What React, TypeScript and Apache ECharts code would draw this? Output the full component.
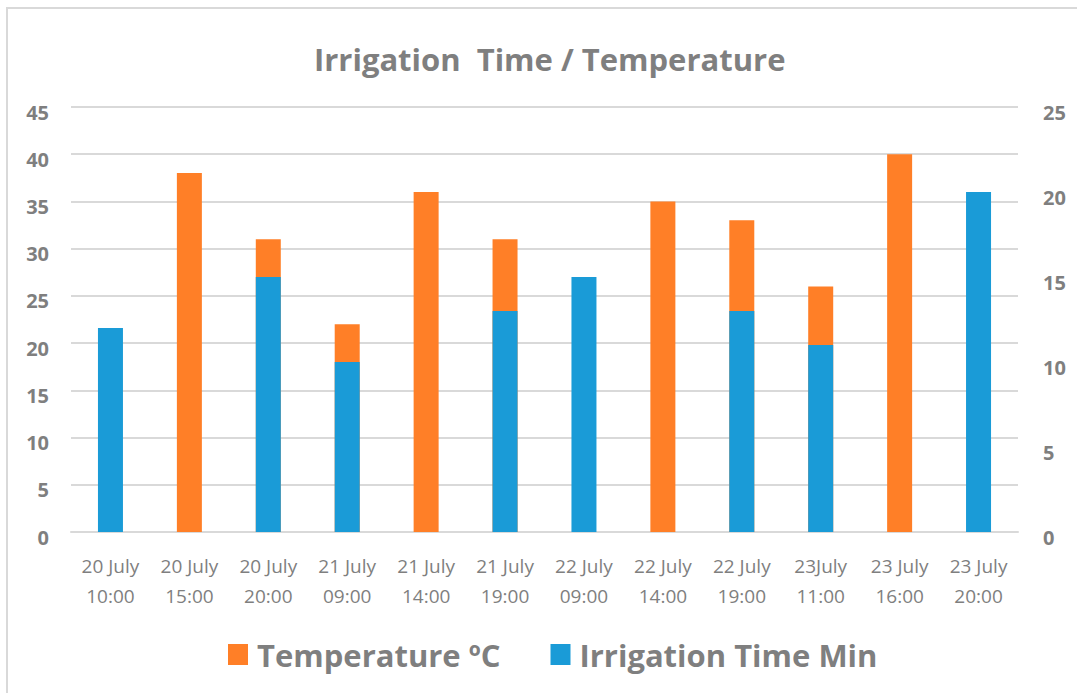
import React, { useEffect, useRef } from "react";
import * as echarts from "echarts";

const categories = [
  "20 July\n10:00", "20 July\n15:00", "20 July\n20:00", "21 July\n09:00",
  "21 July\n14:00", "21 July\n19:00", "22 July\n09:00", "22 July\n14:00",
  "22 July\n19:00", "23July\n11:00", "23 July\n16:00", "23 July\n20:00",
];
const temperature = [null, 38, 31, 22, 36, 31, null, 35, 33, 26, 40, null];
const irrigation = [12, null, 15, 10, null, 13, 15, null, 13, 11, null, 20];

const FONT = "'Open Sans', sans-serif";
const GRAY = "#7f7f7f";

export default function App() {
  const ref = useRef<HTMLDivElement>(null);
  useEffect(() => {
    const chart = echarts.init(ref.current!, undefined, { renderer: "svg" });
    chart.setOption({
      animation: false,
      backgroundColor: "#ffffff",
      title: {
        text: "Irrigation  Time / Temperature",
        left: 309,
        top: 38,
        textStyle: { fontFamily: FONT, fontSize: 31, fontWeight: "bold", color: GRAY },
      },
      graphic: [
        {
          type: "rect",
          shape: { x: 7, y: 8, width: 1200, height: 800 },
          style: { fill: "none", stroke: "#d9d9d9", lineWidth: 2 },
          silent: true,
        },
      ],
      legend: {
        top: 634,
        left: 223,
        itemWidth: 20,
        itemHeight: 21,
        itemGap: 50,
        icon: "rect",
        textStyle: { fontFamily: FONT, fontSize: 31, fontWeight: "bold", color: GRAY, padding: [0, 0, 0, 4] },
        data: ["Temperature ºC", "Irrigation Time Min"],
      },
      grid: { left: 71, right: 59, top: 107, bottom: 161 },
      xAxis: {
        type: "category",
        data: categories,
        axisLine: { show: true, lineStyle: { color: "#d9d9d9", width: 2 } },
        axisTick: { show: false },
        axisLabel: {
          interval: 0,
          margin: 19,
          fontFamily: FONT,
          fontSize: 19,
          lineHeight: 30,
          color: GRAY,
        },
      },
      yAxis: [
        {
          type: "value",
          min: 0,
          max: 45,
          interval: 5,
          axisLine: { show: false },
          axisTick: { show: false },
          splitLine: { lineStyle: { color: "#d9d9d9", width: 2 } },
          axisLabel: {
            margin: 22,
            fontFamily: FONT,
            fontSize: 20,
            fontWeight: "bold",
            color: GRAY,
            verticalAlign: "top",
            lineHeight: 10,
          },
        },
        {
          type: "value",
          min: 0,
          max: 25,
          interval: 5,
          axisLine: { show: false },
          axisTick: { show: false },
          splitLine: { show: false },
          axisLabel: {
            margin: 25,
            fontFamily: FONT,
            fontSize: 20,
            fontWeight: "bold",
            color: GRAY,
            verticalAlign: "top",
            lineHeight: 10,
          },
        },
      ],
      series: [
        {
          name: "Temperature ºC",
          type: "bar",
          yAxisIndex: 0,
          data: temperature,
          itemStyle: { color: "#ff7f27" },
          barWidth: 25,
          barGap: "-100%",
        },
        {
          name: "Irrigation Time Min",
          type: "bar",
          yAxisIndex: 1,
          data: irrigation,
          itemStyle: { color: "#1a9bd7" },
          barWidth: 25,
          barGap: "-100%",
        },
      ],
    });
    return () => chart.dispose();
  }, []);
  return (
    <div
      ref={ref}
      style={{ position: "fixed", left: 0, top: 0, width: 1077, height: 693 }}
    />
  );
}
